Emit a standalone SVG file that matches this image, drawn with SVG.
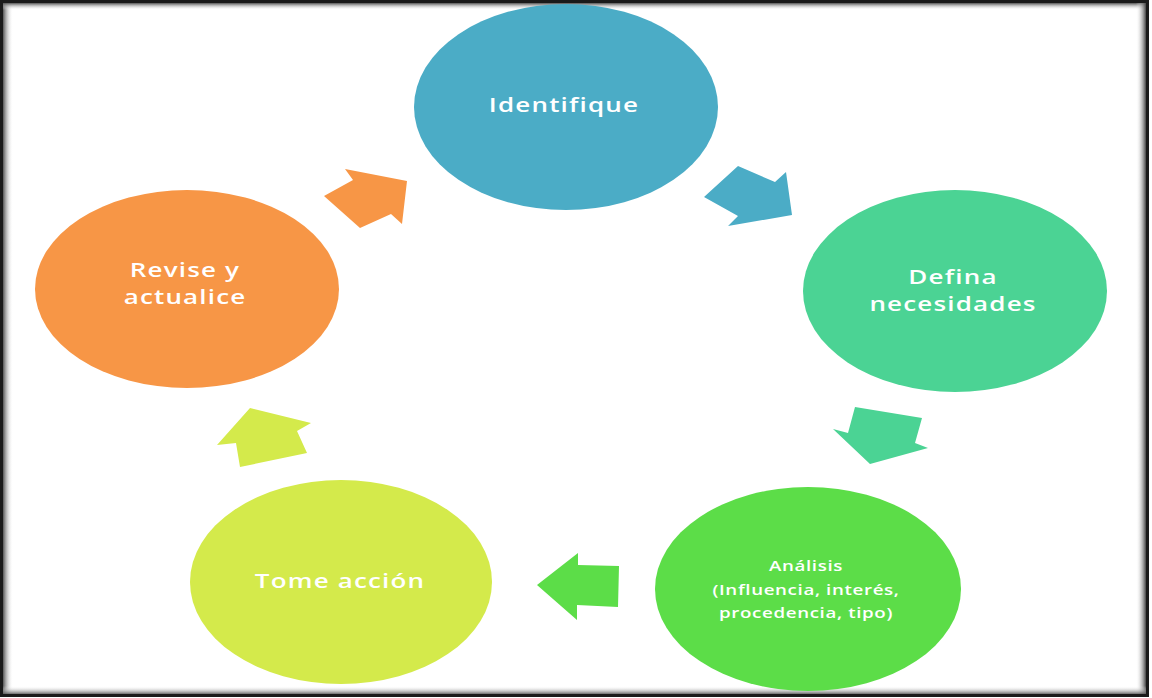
<svg xmlns="http://www.w3.org/2000/svg" width="1152" height="698" viewBox="0 0 1152 698">
<defs>
<linearGradient id="gl" x1="0" y1="0" x2="1" y2="0"><stop offset="0" stop-color="#555"/><stop offset="1" stop-color="#fff" stop-opacity="0"/></linearGradient>
<linearGradient id="gr" x1="1" y1="0" x2="0" y2="0"><stop offset="0" stop-color="#444"/><stop offset="1" stop-color="#fff" stop-opacity="0"/></linearGradient>
<linearGradient id="gt" x1="0" y1="0" x2="0" y2="1"><stop offset="0" stop-color="#555"/><stop offset="1" stop-color="#fff" stop-opacity="0"/></linearGradient>
<linearGradient id="gb" x1="0" y1="1" x2="0" y2="0"><stop offset="0" stop-color="#444"/><stop offset="1" stop-color="#fff" stop-opacity="0"/></linearGradient>
<style>
.lbl{font-family:"Open Sans","Noto Sans",sans-serif;fill:#fff;text-anchor:middle;font-weight:600}
.big{font-size:20px;letter-spacing:0.9px}
.small{font-size:15px;letter-spacing:0.5px}
</style>
</defs>
<rect x="0" y="0" width="1152" height="698" fill="#fff"/>
<g id="frame">
<rect x="3" y="3" width="10" height="692" fill="url(#gl)"/>
<rect x="3" y="3" width="1143" height="7" fill="url(#gt)"/>
<rect x="1136" y="3" width="10" height="692" fill="url(#gr)"/>
<rect x="3" y="686" width="1143" height="9" fill="url(#gb)"/>
<rect x="1.5" y="1.5" width="1146" height="694" fill="none" stroke="#1a1a1a" stroke-width="3"/>
</g>
<g id="connectors">
<polygon points="324,196 353,180 345,169 407,181 402,224 391,214 360,228" fill="#F79646"/>
<polygon points="704,197 738,166 775,182 786,172 792,215 728,226 738,216" fill="#4BACC6"/>
<polygon points="833,429 848,433 855,407 922,418 915,443 928,448 870,464" fill="#4BD394"/>
<polygon points="537,585 578,553 578,565 619,566 618,607 577,605 577,620" fill="#5CDD48"/>
<polygon points="217,445 236,443 240,467 307,453 297,431 311,423 250,408" fill="#D4EA4B"/>
</g>
<g id="identifique">
<ellipse cx="566" cy="107" rx="152" ry="103" fill="#4BACC6"/>
<g transform="translate(564,0) scale(1.3,1)"><text class="lbl big" x="0" y="112">Identifique</text></g>
</g>
<g id="defina">
<ellipse cx="955" cy="291" rx="152" ry="101" fill="#4BD394"/>
<g transform="translate(953,0) scale(1.3,1)">
<text class="lbl big" x="0" y="284">Defina</text>
<text class="lbl big" x="0" y="311.5">necesidades</text>
</g>
</g>
<g id="analisis">
<ellipse cx="808" cy="589" rx="153" ry="102" fill="#5CDD48"/>
<g transform="translate(806,0) scale(1.25,1)">
<text class="lbl small" x="0" y="571">Análisis</text>
<text class="lbl small" x="0" y="595.5">(Influencia, interés,</text>
<text class="lbl small" x="0" y="618">procedencia, tipo)</text>
</g>
</g>
<g id="tome">
<ellipse cx="341" cy="582" rx="151" ry="102" fill="#D4EA4B"/>
<g transform="translate(340,0) scale(1.3,1)"><text class="lbl big" x="0" y="588">Tome acción</text></g>
</g>
<g id="revise">
<ellipse cx="187" cy="289" rx="152" ry="99" fill="#F79646"/>
<g transform="translate(185,0) scale(1.3,1)">
<text class="lbl big" x="0" y="277">Revise  y</text>
<text class="lbl big" x="0" y="304.5">actualice</text>
</g>
</g>
</svg>
